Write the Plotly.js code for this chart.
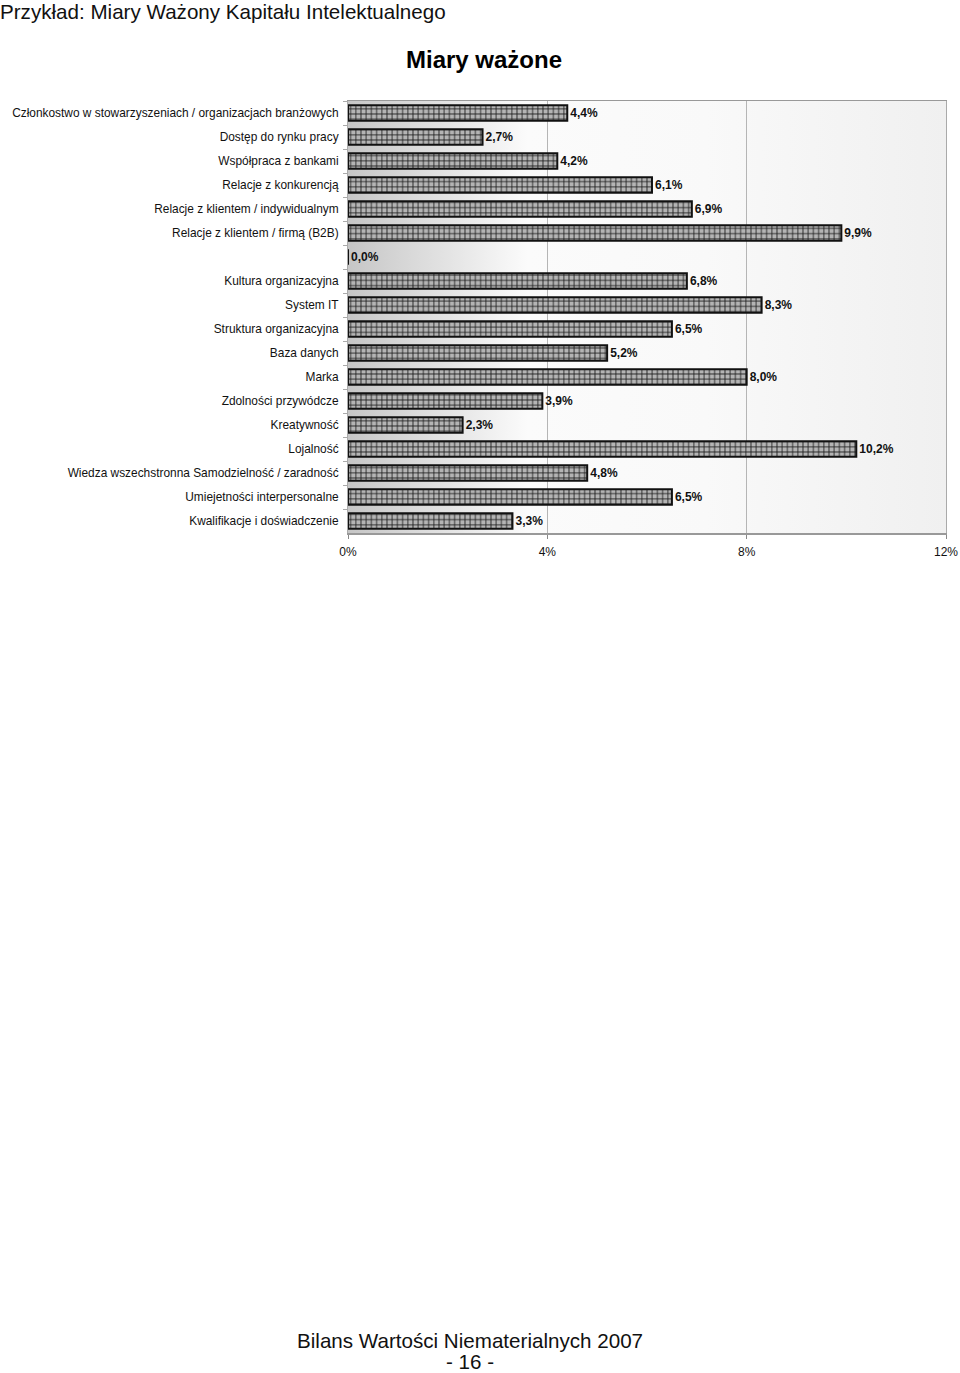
<!DOCTYPE html>
<html>
<head>
<meta charset="utf-8">
<script src="https://cdn.plot.ly/plotly-3.0.1.min.js"></script>
<style>
  body { margin: 0; background: #fff; }
  #chart { width: 960px; height: 1373px; }
</style>
</head>
<body>
<div id="chart"></div>
<script>
var categories = [
	'Członkostwo w stowarzyszeniach / organizacjach branżowych',
	'Dostęp do rynku pracy',
	'Współpraca z bankami',
	'Relacje z konkurencją',
	'Relacje z klientem / indywidualnym',
	'Relacje z klientem / firmą (B2B)',
	' ',
	'Kultura organizacyjna',
	'System IT',
	'Struktura organizacyjna',
	'Baza danych',
	'Marka',
	'Zdolności przywódcze',
	'Kreatywność',
	'Lojalność',
	'Wiedza wszechstronna Samodzielność / zaradność',
	'Umiejetności interpersonalne',
	'Kwalifikacje i doświadczenie'
];
var values = [4.4, 2.7, 4.2, 6.1, 6.9, 9.9, 0.0, 6.8, 8.3, 6.5, 5.2, 8.0, 3.9, 2.3, 10.2, 4.8, 6.5, 3.3];
var tickVals = [0, 4, 8, 12];
var tickText = ['0%', '4%', '8%', '12%'];

var labels = values.map(function(v) { return v.toFixed(1).replace('.', ',') + '%'; });

// plot area in pixels
var L = 348, R = 946, T = 101, B = 533;
var W = 960, H = 1373;
function px(x) { return (x - L) / (R - L); }
function py(y) { return (B - y) / (B - T); }

var gradSvg = '<svg xmlns="http://www.w3.org/2000/svg" width="600" height="100" preserveAspectRatio="none">' +
	'<defs><linearGradient id="g" x1="0" y1="0" x2="1" y2="0">' +
	'<stop offset="0" stop-color="#c6c6c6"/>' +
	'<stop offset="0.3" stop-color="#fbfbfb"/>' +
	'<stop offset="0.6" stop-color="#f9f9f9"/>' +
	'<stop offset="1" stop-color="#f0f0f0"/>' +
	'</linearGradient></defs><rect width="600" height="100" fill="url(#g)"/></svg>';

var trace = {
	type: 'bar',
	orientation: 'h',
	y: categories,
	x: values,
	text: labels,
	textposition: 'outside',
	cliponaxis: false,
	textfont: { family: 'Liberation Sans, Arial, sans-serif', size: 12, color: '#111', weight: 'bold' },
	marker: {
		color: '#b0b0b0',
		line: { color: '#111', width: 2 },
		pattern: { shape: '+', size: 5.2, solidity: 0.3, fgcolor: '#1e1e1e', bgcolor: '#b4b4b4', fillmode: 'replace' }
	},
	hoverinfo: 'none'
};

var layout = {
	width: W,
	height: H,
	margin: { l: L, r: W - R, t: T, b: H - B },
	paper_bgcolor: '#fff',
	plot_bgcolor: 'rgba(0,0,0,0)',
	showlegend: false,
	bargap: 0.36,
	font: { family: 'Liberation Sans, Arial, sans-serif', size: 12, color: '#111' },
	title: {
		text: '<b>Miary ważone</b>',
		font: { size: 24, color: '#000' },
		x: 484 / W, xanchor: 'center',
		y: 1 - 60 / H, yanchor: 'middle'
	},
	xaxis: {
		range: [0, 12],
		tickmode: 'array',
		tickvals: tickVals,
		ticktext: tickText,
		ticks: 'outside',
		ticklen: 4,
		tickcolor: '#888',
		ticklabelstandoff: 3,
		tickfont: { size: 12, color: '#111' },
		showgrid: true,
		gridcolor: '#b5b5b5',
		gridwidth: 1,
		showline: true,
		linecolor: '#999',
		linewidth: 1.5,
		mirror: true,
		zeroline: false,
		fixedrange: true
	},
	yaxis: {
		autorange: 'reversed',
		ticks: 'outside',
		tickson: 'boundaries',
		ticklen: 4,
		tickcolor: '#aaa',
		ticklabelstandoff: 6,
		tickfont: { size: 11.9, color: '#111' },
		showline: true,
		linecolor: '#aaa',
		linewidth: 1,
		mirror: true,
		showgrid: false,
		fixedrange: true
	},
	images: [{
		source: 'data:image/svg+xml;utf8,' + encodeURIComponent(gradSvg),
		xref: 'paper', yref: 'paper',
		x: 0, y: 1, sizex: 1, sizey: 1,
		xanchor: 'left', yanchor: 'top',
		sizing: 'stretch',
		layer: 'below'
	}],
	annotations: [
		{
			text: 'Przykład: Miary Ważony Kapitału Intelektualnego',
			xref: 'paper', yref: 'paper',
			x: px(-2), y: py(12), xanchor: 'left', yanchor: 'middle',
			showarrow: false,
			font: { size: 20.6, color: '#111' }
		},
		{
			text: 'Bilans Wartości Niematerialnych 2007',
			xref: 'paper', yref: 'paper',
			x: px(470), y: py(1340), xanchor: 'center', yanchor: 'middle',
			showarrow: false,
			font: { size: 20.6, color: '#111' }
		},
		{
			text: '- 16 -',
			xref: 'paper', yref: 'paper',
			x: px(470), y: py(1361), xanchor: 'center', yanchor: 'middle',
			showarrow: false,
			font: { size: 20.6, color: '#111' }
		}
	]
};

Plotly.newPlot('chart', [trace], layout, { staticPlot: true });
</script>
</body>
</html>
